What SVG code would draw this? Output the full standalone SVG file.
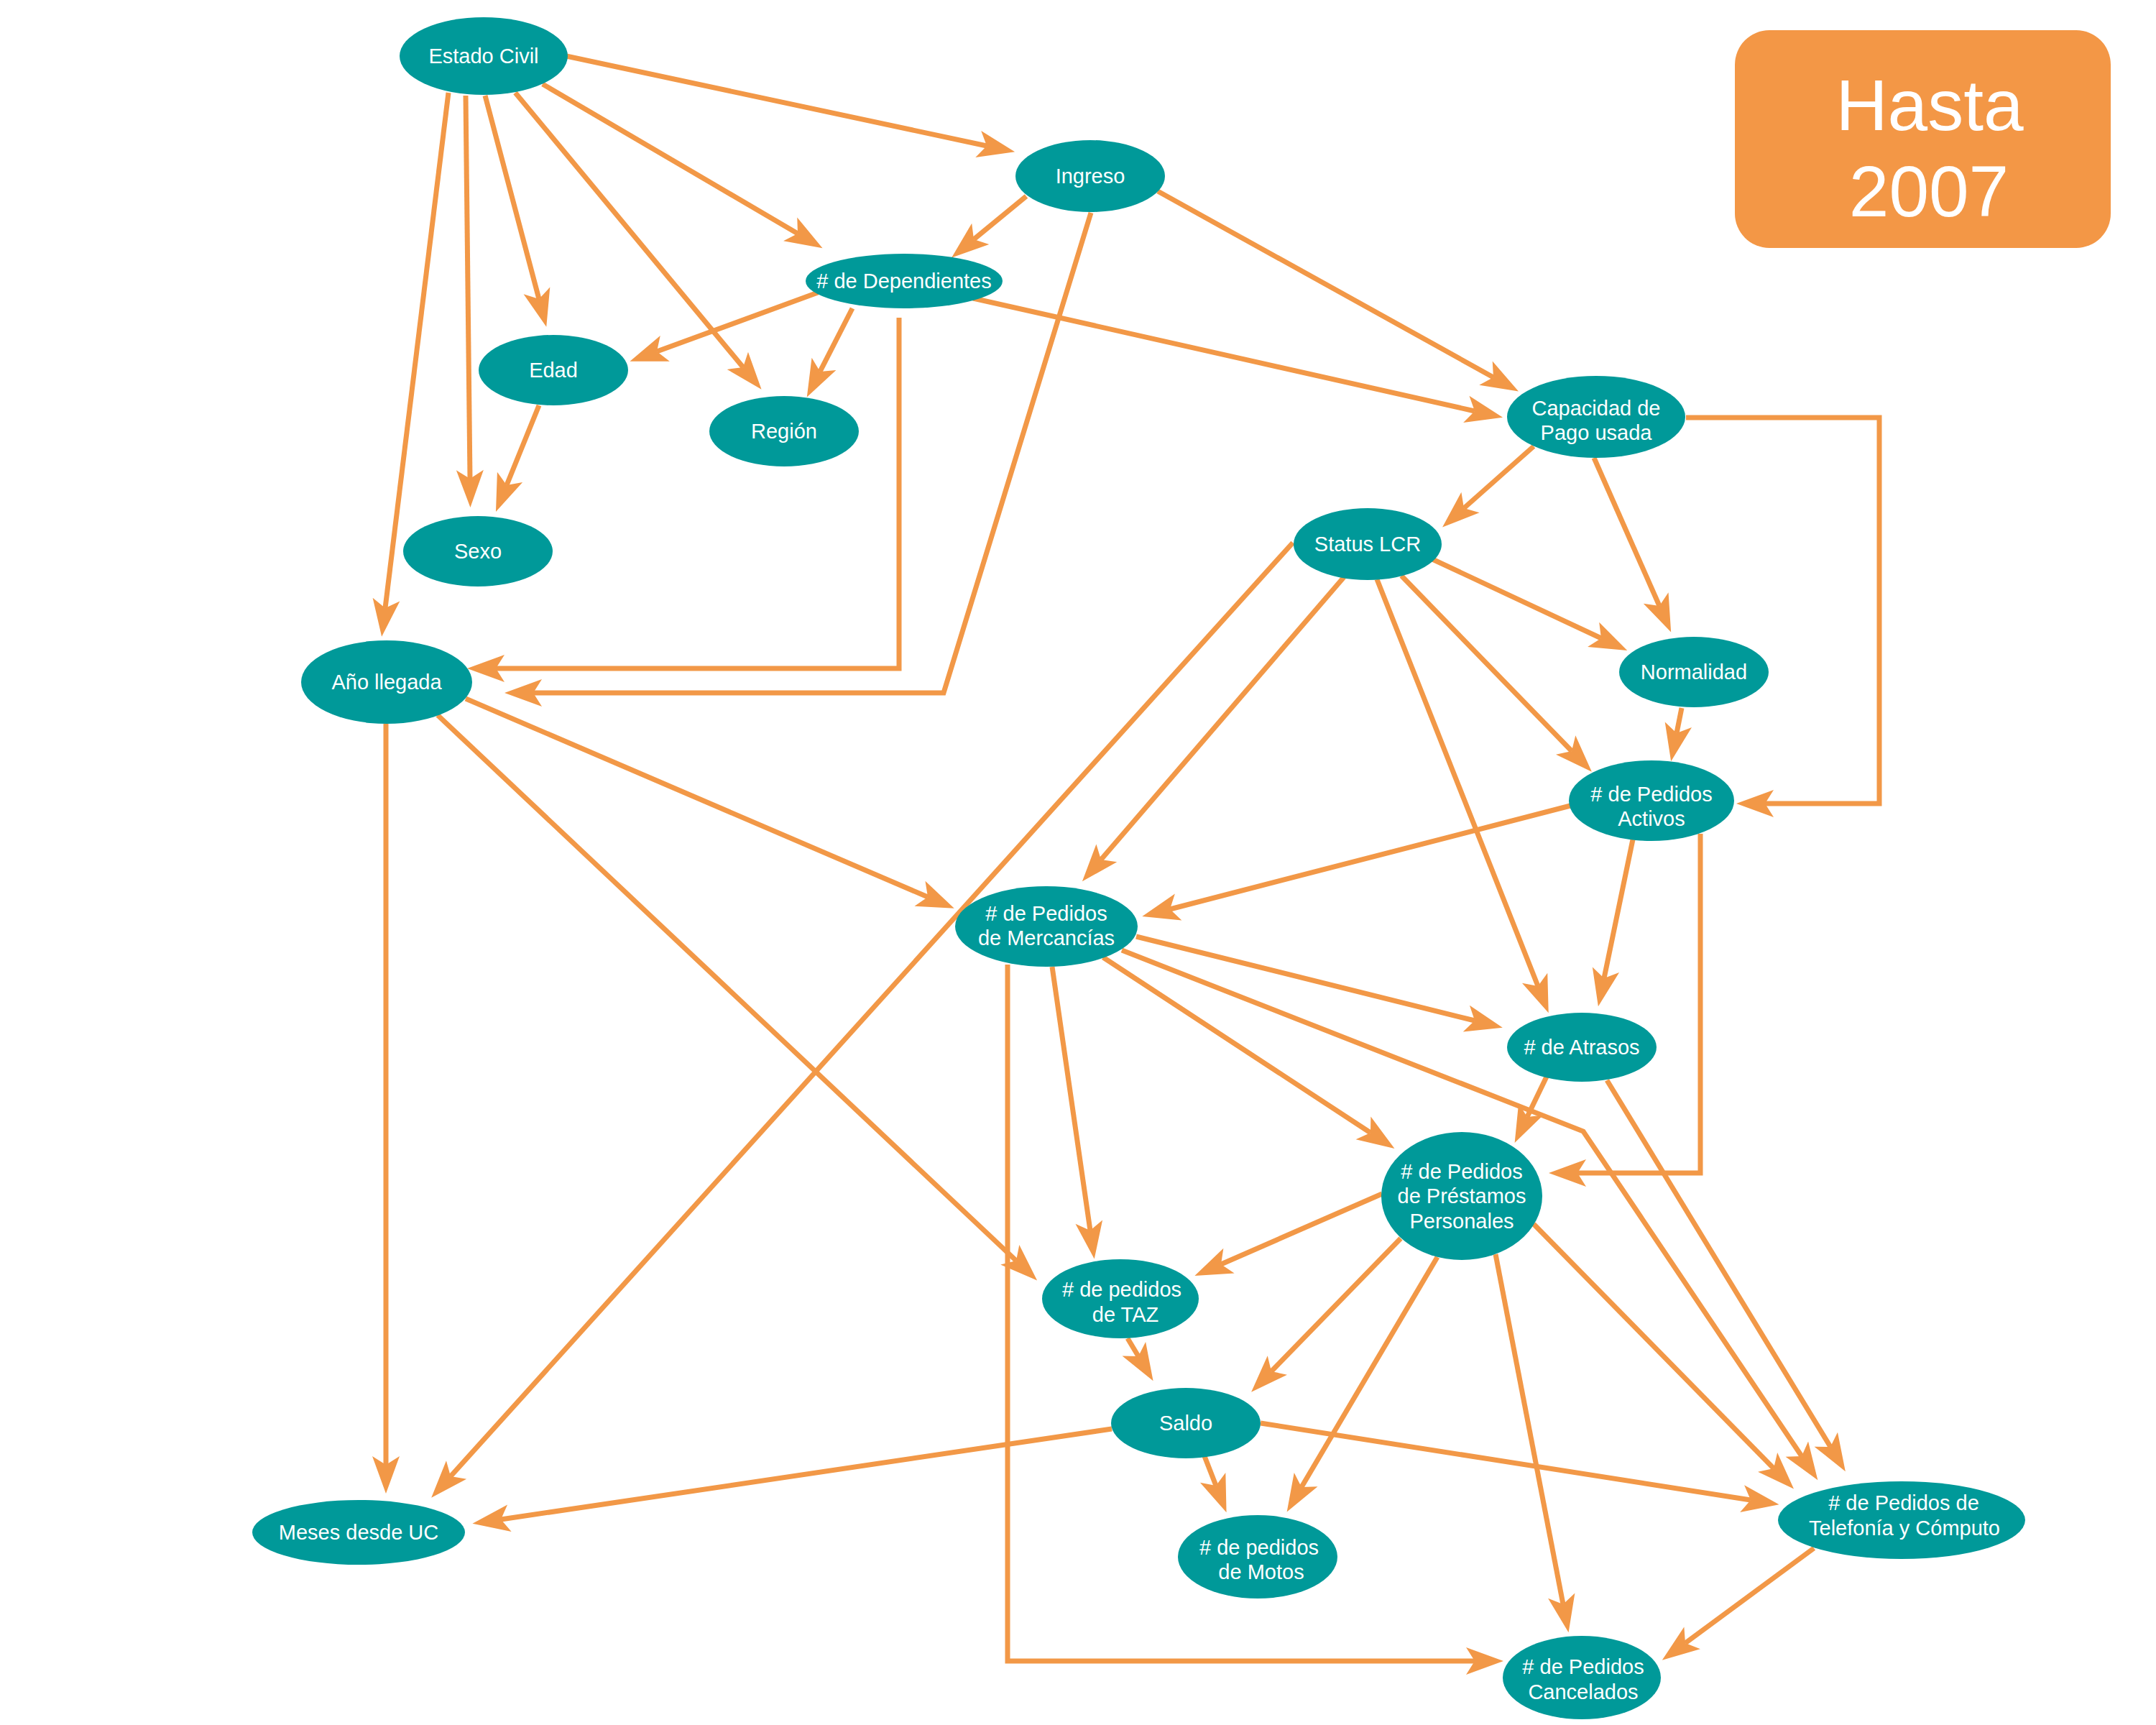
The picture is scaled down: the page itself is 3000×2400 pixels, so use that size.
<svg xmlns="http://www.w3.org/2000/svg" width="3000" height="2400" viewBox="0 0 3000 2400">
<style>
.e{fill:none;stroke:#F29847;stroke-width:7;stroke-linejoin:miter;marker-end:url(#a)}
.n ellipse{fill:#009999}
.n text{font-family:"Liberation Sans",Arial,sans-serif;font-size:29px;fill:#fff;text-anchor:middle}
.t{font-family:"Liberation Sans",Arial,sans-serif;font-size:100px;fill:#fff;text-anchor:middle}
</style>
<defs>
<marker id="a" markerUnits="userSpaceOnUse" markerWidth="62" markerHeight="46" viewBox="-14 -23 62 46" refX="0" refY="0" orient="auto">
<path d="M40,0 L-12,-19 L0,0 L-12,19 Z" fill="#F29847"/>
</marker>
</defs>
<rect width="3000" height="2400" fill="#fff"/>
<g id="connectors">
<path class="e" d="M788,78 L1373,203"/>
<path class="e" d="M755,117 L1110,325"/>
<path class="e" d="M717,129 L1034,511"/>
<path class="e" d="M675,133 L750,416"/>
<path class="e" d="M648,133 L654,666"/>
<path class="e" d="M624,129 L536,846"/>
<path class="e" d="M750,564 L705,675"/>
<path class="e" d="M1138,407 L914,489"/>
<path class="e" d="M1186,429 L1141,517"/>
<path class="e" d="M1251,442 L1251,930 L690,930"/>
<path class="e" d="M1518,296 L1313,964 L742,964"/>
<path class="e" d="M1428,273 L1355,333"/>
<path class="e" d="M1611,266 L2078,525"/>
<path class="e" d="M1354,415 L2052,572"/>
<path class="e" d="M2134,621 L2037,707"/>
<path class="e" d="M2218,637 L2309,843"/>
<path class="e" d="M2346,581 L2615,581 L2615,1118 L2456,1118"/>
<path class="e" d="M1993,778 L2228,888"/>
<path class="e" d="M1950,801 L2187,1045"/>
<path class="e" d="M1916,806 L2140,1372"/>
<path class="e" d="M1870,803 L1532,1196"/>
<path class="e" d="M1799,755 L627,2054"/>
<path class="e" d="M2340,985 L2333,1020"/>
<path class="e" d="M2185,1121 L1628,1265"/>
<path class="e" d="M2272,1168 L2232,1361"/>
<path class="e" d="M2366,1160 L2366,1632 L2195,1632"/>
<path class="e" d="M648,972 L1291,1248"/>
<path class="e" d="M609,995 L1414,1754"/>
<path class="e" d="M537,1007 L537,2038"/>
<path class="e" d="M1581,1303 L2052,1420"/>
<path class="e" d="M1535,1332 L1907,1576"/>
<path class="e" d="M1561,1322 L2203,1574 L2507,2026"/>
<path class="e" d="M1464,1345 L1517,1712"/>
<path class="e" d="M1402,1342 L1402,2311 L2052,2311"/>
<path class="e" d="M2152,1498 L2125,1554"/>
<path class="e" d="M2236,1503 L2547,2013"/>
<path class="e" d="M1923,1661 L1699,1759"/>
<path class="e" d="M1949,1723 L1769,1908"/>
<path class="e" d="M2000,1749 L1811,2069"/>
<path class="e" d="M2081,1745 L2175,2232"/>
<path class="e" d="M2134,1703 L2468,2043"/>
<path class="e" d="M1569,1862 L1584,1887"/>
<path class="e" d="M1676,2026 L1692,2067"/>
<path class="e" d="M1547,1988 L697,2114"/>
<path class="e" d="M1754,1980 L2436,2087"/>
<path class="e" d="M2524,2154 L2345,2286"/>
</g>
<g id="hasta">
<rect x="2414" y="42" width="523" height="303" rx="48" ry="48" fill="#F39746"/>
<text class="t" x="2685" y="181">Hasta</text>
<text class="t" x="2684" y="301">2007</text>
</g>
<g id="estado-civil" class="n"><ellipse cx="673" cy="78" rx="117" ry="54"/><text x="673" y="88">Estado Civil</text></g>
<g id="ingreso" class="n"><ellipse cx="1517" cy="245" rx="104" ry="50"/><text x="1517" y="255">Ingreso</text></g>
<g id="dependientes" class="n"><ellipse cx="1258" cy="391" rx="137" ry="38"/><text x="1258" y="401"># de Dependientes</text></g>
<g id="edad" class="n"><ellipse cx="770" cy="515" rx="104" ry="49"/><text x="770" y="525">Edad</text></g>
<g id="region" class="n"><ellipse cx="1091" cy="600" rx="104" ry="49"/><text x="1091" y="610">Región</text></g>
<g id="sexo" class="n"><ellipse cx="665" cy="767" rx="104" ry="49"/><text x="665" y="777">Sexo</text></g>
<g id="anio-llegada" class="n"><ellipse cx="538" cy="949" rx="119" ry="58"/><text x="538" y="959">Año llegada</text></g>
<g id="meses-uc" class="n"><ellipse cx="499" cy="2132" rx="148" ry="45"/><text x="499" y="2142">Meses desde UC</text></g>
<g id="capacidad" class="n"><ellipse cx="2221" cy="580" rx="124" ry="57"/><text x="2221" y="578">Capacidad de</text><text x="2221" y="612">Pago usada</text></g>
<g id="status-lcr" class="n"><ellipse cx="1903" cy="757" rx="103" ry="50"/><text x="1903" y="767">Status LCR</text></g>
<g id="normalidad" class="n"><ellipse cx="2357" cy="935" rx="104" ry="49"/><text x="2357" y="945">Normalidad</text></g>
<g id="activos" class="n"><ellipse cx="2298" cy="1114" rx="115" ry="56"/><text x="2298" y="1115"># de Pedidos</text><text x="2298" y="1149">Activos</text></g>
<g id="mercancias" class="n"><ellipse cx="1456" cy="1289" rx="127" ry="56"/><text x="1456" y="1281"># de Pedidos</text><text x="1456" y="1315">de Mercancías</text></g>
<g id="atrasos" class="n"><ellipse cx="2201" cy="1457" rx="104" ry="48"/><text x="2201" y="1467"># de Atrasos</text></g>
<g id="prestamos" class="n"><ellipse cx="2034" cy="1664" rx="112" ry="89"/><text x="2034" y="1640"># de Pedidos</text><text x="2034" y="1674">de Préstamos</text><text x="2034" y="1709">Personales</text></g>
<g id="taz" class="n"><ellipse cx="1559" cy="1807" rx="109" ry="55"/><text x="1561" y="1804"># de pedidos</text><text x="1566" y="1839">de TAZ</text></g>
<g id="saldo" class="n"><ellipse cx="1650" cy="1980" rx="104" ry="49"/><text x="1650" y="1990">Saldo</text></g>
<g id="motos" class="n"><ellipse cx="1750" cy="2166" rx="111" ry="58"/><text x="1752" y="2163"># de pedidos</text><text x="1755" y="2197">de Motos</text></g>
<g id="telefonia" class="n"><ellipse cx="2646" cy="2115" rx="172" ry="54"/><text x="2649" y="2101"># de Pedidos de</text><text x="2650" y="2136">Telefonía y Cómputo</text></g>
<g id="cancelados" class="n"><ellipse cx="2201" cy="2334" rx="110" ry="58"/><text x="2203" y="2329"># de Pedidos</text><text x="2203" y="2364">Cancelados</text></g>
</svg>
